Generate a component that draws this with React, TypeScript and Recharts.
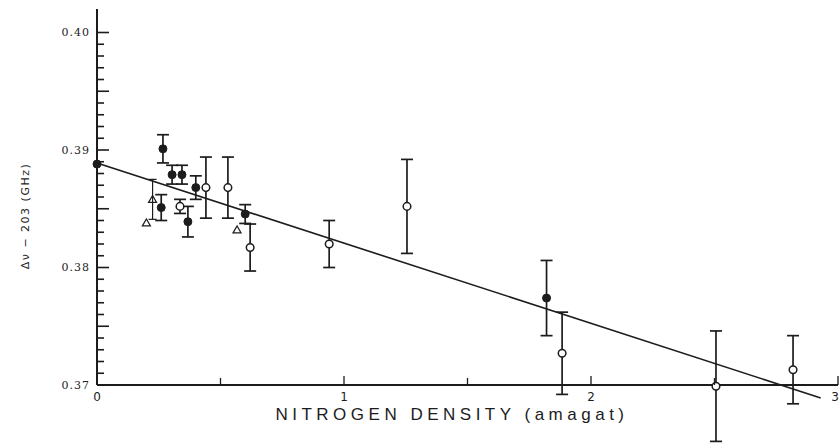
import {
  ComposedChart,
  Scatter,
  ErrorBar,
  XAxis,
  YAxis,
  ReferenceLine,
} from "recharts";

// filled circles
const filledX = [0.0, 0.267, 0.26, 0.304, 0.344, 0.368, 0.4, 0.6, 1.82];
const filledY = [0.3888, 0.3901, 0.3851, 0.3879, 0.3879, 0.3839, 0.3868, 0.38455, 0.3774];
const filledErr = [0, 0.0012, 0.0011, 0.0008, 0.0008, 0.0013, 0.001, 0.0008, 0.0032];

// open circles
const openX = [0.336, 0.441, 0.53, 0.62, 0.94, 1.255, 1.883, 2.506, 2.818];
const openY = [0.3852, 0.3868, 0.3868, 0.3817, 0.382, 0.3852, 0.3727, 0.3699, 0.3713];
const openErr = [0.0006, 0.0026, 0.0026, 0.002, 0.002, 0.004, 0.0035, 0.0047, 0.0029];

// small triangles
const triX = [0.2, 0.225, 0.567];
const triY = [0.3838, 0.3858, 0.3832];
const triErr = [0, 0.0017, 0];

// fitted line end points
const fitX = [0, 2.93];
const fitY = [0.3889, 0.3689];

const yLabels = [0.37, 0.38, 0.39, 0.4];
const yMinorStep = 0.001;
const yTicks = Array.from({ length: 31 }, (_, i) => +(0.37 + i * yMinorStep).toFixed(3));
const xTicks = [0, 0.5, 1, 1.5, 2, 2.5, 3];
const xLabels = [0, 1, 2, 3];

const toRows = (xs: number[], ys: number[], es: number[]) =>
  xs.map((x, i) => ({ x, y: ys[i], err: es[i] }));

const filled = toRows(filledX, filledY, filledErr);
const open = toRows(openX, openY, openErr);
const tri = toRows(triX, triY, triErr);

const INK = "#1c1c1c";
const AXIS_X = 97;
const AXIS_Y = 385;

function YTick(props: any) {
  const { y, payload } = props;
  const v = payload.value as number;
  const k = Math.round(v * 1000);
  const isLabel = yLabels.some((l) => Math.abs(l - v) < 1e-6);
  const len = k % 5 === 0 ? 12 : 7;
  return (
    <g>
      <line x1={AXIS_X} x2={AXIS_X + len} y1={y} y2={y} stroke={INK} strokeWidth={1.6} />
      {isLabel && (
        <text
          x={AXIS_X - 7}
          y={y}
          textAnchor="end"
          dominantBaseline="central"
          fontSize={11}
          letterSpacing={1}
          fontFamily="DejaVu Serif"
          fill={INK}
        >
          {v.toFixed(2)}
        </text>
      )}
    </g>
  );
}

function XTick(props: any) {
  const { x, payload } = props;
  const v = payload.value as number;
  const isLabel = xLabels.includes(v);
  const last = v === xTicks[xTicks.length - 1];
  return (
    <g>
      <line x1={x} x2={x} y1={AXIS_Y} y2={AXIS_Y - (isLabel ? 9 : 7)} stroke={INK} strokeWidth={1.3} />
      {isLabel && (
        <text
          x={last ? x + 1 : x}
          y={AXIS_Y + 16}
          textAnchor={last ? "end" : "middle"}
          fontSize={12}
          fontFamily="DejaVu Sans"
          fill={INK}
        >
          {v}
        </text>
      )}
    </g>
  );
}

const Dot = (props: any) => (
  <circle cx={props.cx} cy={props.cy} r={4} fill={INK} stroke={INK} strokeWidth={1} />
);
const Ring = (props: any) => (
  <circle cx={props.cx} cy={props.cy} r={3.8} fill="#fff" stroke={INK} strokeWidth={1.5} />
);
const Tri = (props: any) => {
  const { cx, cy } = props;
  return (
    <path
      d={`M${cx - 4},${cy + 3} L${cx},${cy - 4} L${cx + 4},${cy + 3} Z`}
      fill="none"
      stroke={INK}
      strokeWidth={1.2}
    />
  );
};

export default function App() {
  return (
    <div style={{ position: "absolute", left: 0, top: 0, width: 840, height: 445, background: "#fff" }}>
      <style>{".recharts-scatter{clip-path:none !important}"}</style>
      <ComposedChart width={840} height={445} margin={{ top: 9, right: 2, left: 0, bottom: 0 }}>
        <XAxis
          type="number"
          dataKey="x"
          domain={[0, 3]}
          ticks={xTicks}
          interval={0}
          height={60}
          tickLine={false}
          tick={<XTick />}
          axisLine={{ stroke: INK, strokeWidth: 2 }}
          label={{
            content: () => (
              <text
                x={452}
                y={420}
                textAnchor="middle"
                fontSize={17}
                letterSpacing={4.5}
                fontFamily="Liberation Sans"
                fill={INK}
              >
                NITROGEN DENSITY (amagat)
              </text>
            ),
          }}
        />
        <YAxis
          type="number"
          dataKey="y"
          domain={[0.37, 0.402]}
          allowDataOverflow
          ticks={yTicks}
          interval={0}
          width={97}
          tickLine={false}
          tick={<YTick />}
          axisLine={{ stroke: INK, strokeWidth: 2 }}
          label={{
            content: () => (
              <text
                x={25}
                y={216}
                transform="rotate(-90 25 216)"
                textAnchor="middle"
                dominantBaseline="central"
                fontSize={11}
                letterSpacing={1.5}
                fontFamily="DejaVu Sans"
                fill={INK}
              >
                Δν − 203 (GHz)
              </text>
            ),
          }}
        />
        <ReferenceLine
          segment={[
            { x: fitX[0], y: fitY[0] },
            { x: fitX[1], y: fitY[1] },
          ]}
          ifOverflow="visible"
          stroke={INK}
          strokeWidth={1.6}
        />
        <Scatter data={tri} shape={<Tri />} isAnimationActive={false}>
          <ErrorBar dataKey="err" direction="y" width={4} stroke={INK} strokeWidth={1.2} />
        </Scatter>
        <Scatter data={open} shape={<Ring />} isAnimationActive={false}>
          <ErrorBar dataKey="err" direction="y" width={6} stroke={INK} strokeWidth={1.7} />
        </Scatter>
        <Scatter data={filled} shape={<Dot />} isAnimationActive={false}>
          <ErrorBar dataKey="err" direction="y" width={6} stroke={INK} strokeWidth={1.7} />
        </Scatter>
      </ComposedChart>
    </div>
  );
}
